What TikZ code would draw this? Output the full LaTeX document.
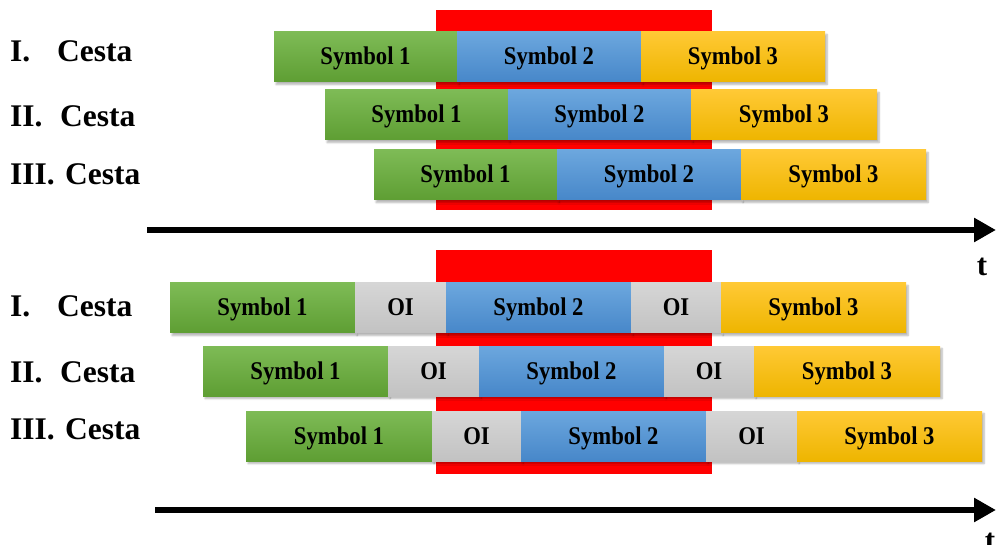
\documentclass[tikz,border=0pt]{standalone}
\usepackage{fontspec}
\setmainfont{Liberation Serif}
\newfontfamily\boxfont[FakeStretch=0.89]{Liberation Serif}
\usetikzlibrary{arrows.meta,shadows.blur}
\definecolor{gtop}{HTML}{7EBB56}
\definecolor{gbot}{HTML}{5E9E33}
\definecolor{btop}{HTML}{6CA7DE}
\definecolor{bbot}{HTML}{4787C9}
\definecolor{ytop}{HTML}{FFC935}
\definecolor{ybot}{HTML}{EEB500}
\definecolor{otop}{HTML}{D6D6D6}
\definecolor{obot}{HTML}{C2C2C2}
\tikzset{
  box/.style={minimum height=50, inner sep=0, outer sep=0,
    text height=21pt, text depth=5pt,
    font=\boxfont\bfseries\fontsize{25.5}{27}\selectfont,
    blur shadow={shadow xshift=2pt, shadow yshift=-2.5pt, shadow blur steps=6, shadow opacity=30}},
  first/.style={anchor=north west},
  next/.style={anchor=west},
  sym1/.style={box, top color=gtop, bottom color=gbot, minimum width=#1},
  sym2/.style={box, top color=btop, bottom color=bbot, minimum width=#1},
  sym3/.style={box, top color=ytop, bottom color=ybot, minimum width=#1},
  oi/.style={box, top color=otop, bottom color=obot, minimum width=#1},
  redzone/.style={fill=red, draw=none},
  rowlabel/.style={anchor=base west, inner sep=0, font=\bfseries\fontsize{31.5}{33}\selectfont},
  timeaxis/.style={line width=6.5, -{Triangle[length=22,width=23]}},
  tlabel/.style={font=\bfseries\fontsize{31}{33}\selectfont, inner sep=0}
}
\begin{document}
\begin{tikzpicture}[x=1pt,y=-1pt]
\useasboundingbox (0,0) rectangle (996,545);
% ---------- top part ----------
\fill[redzone] (436,10) rectangle (712,210);
\node[sym1=183, first] (a1) at (274,32) {Symbol 1};
\node[sym2=184, next] (a2) at (a1.east) {Symbol 2};
\node[sym3=184, next] (a3) at (a2.east) {Symbol 3};
\node[sym1=183, first] (b1) at (325,90) {Symbol 1};
\node[sym2=183, next] (b2) at (b1.east) {Symbol 2};
\node[sym3=186, next] (b3) at (b2.east) {Symbol 3};
\node[sym1=183, first] (c1) at (374,150) {Symbol 1};
\node[sym2=184, next] (c2) at (c1.east) {Symbol 2};
\node[sym3=185, next] (c3) at (c2.east) {Symbol 3};
\node[rowlabel] (la) at (10,62) {\makebox[47pt][l]{I.}Cesta};
\node[rowlabel] (lb) at (10,127) {\makebox[50pt][l]{II.}Cesta};
\node[rowlabel] (lc) at (10,185) {\makebox[55pt][l]{III.}Cesta};
\coordinate (t1s) at (147,230);
\coordinate (t1e) at (996,230);
\draw[timeaxis] (t1s) -- (t1e);
\node[tlabel] (t1) at (982,267) {t};
% ---------- bottom part ----------
\fill[redzone] (436,250) rectangle (712,474);
\node[sym1=185, first] (d1) at (170,283) {Symbol 1};
\node[oi=91, next] (d2) at (d1.east) {OI};
\node[sym2=185, next] (d3) at (d2.east) {Symbol 2};
\node[oi=90, next] (d4) at (d3.east) {OI};
\node[sym3=185, next] (d5) at (d4.east) {Symbol 3};
\node[sym1=185, first] (e1) at (203,346) {Symbol 1};
\node[oi=91, next] (e2) at (e1.east) {OI};
\node[sym2=185, next] (e3) at (e2.east) {Symbol 2};
\node[oi=90, next] (e4) at (e3.east) {OI};
\node[sym3=186, next] (e5) at (e4.east) {Symbol 3};
\node[sym1=186, first] (f1) at (246,411) {Symbol 1};
\node[oi=89, next] (f2) at (f1.east) {OI};
\node[sym2=185, next] (f3) at (f2.east) {Symbol 2};
\node[oi=91, next] (f4) at (f3.east) {OI};
\node[sym3=185, next] (f5) at (f4.east) {Symbol 3};
\node[rowlabel] (ld) at (10,317) {\makebox[47pt][l]{I.}Cesta};
\node[rowlabel] (le) at (10,382) {\makebox[50pt][l]{II.}Cesta};
\node[rowlabel] (lf) at (10,439) {\makebox[55pt][l]{III.}Cesta};
\coordinate (t2s) at (155,510);
\coordinate (t2e) at (996,510);
\draw[timeaxis] (t2s) -- (t2e);
\node[tlabel] (t2) at (990,542) {t};
\end{tikzpicture}
\end{document}
